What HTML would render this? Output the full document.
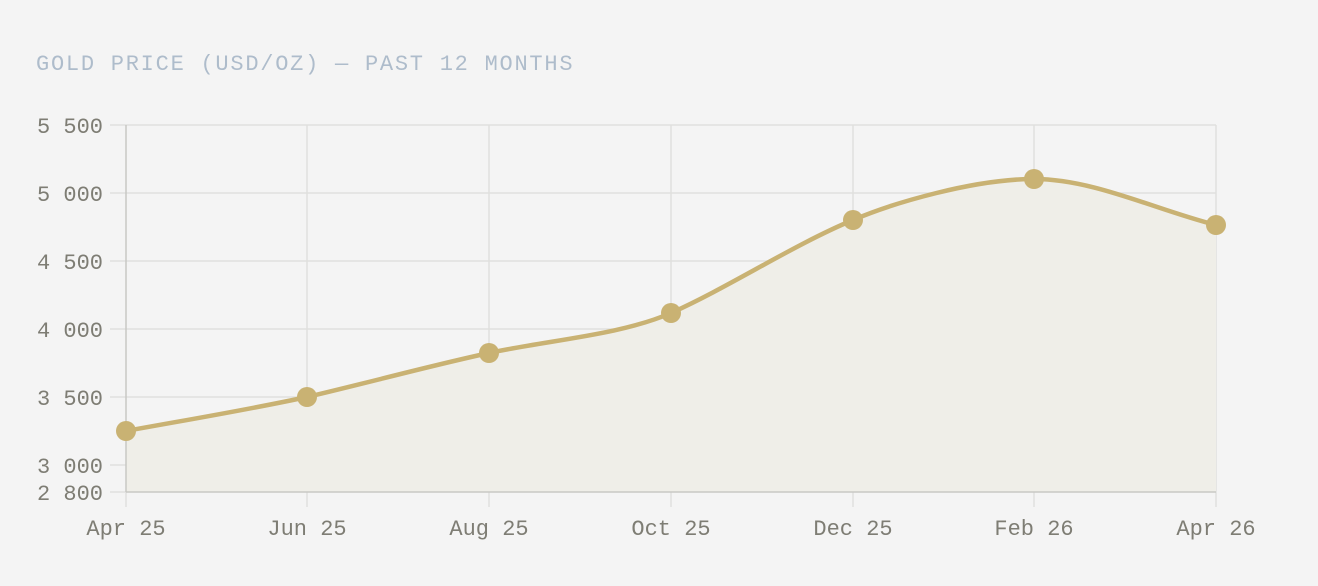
<!DOCTYPE html>
<html><head><style>
html,body{margin:0;padding:0;background:#f4f4f4;}
svg{display:block;font-family:"Liberation Mono",monospace;}
</style></head><body>
<svg width="1318" height="586" viewBox="0 0 1318 586" xmlns="http://www.w3.org/2000/svg">
<rect width="1318" height="586" fill="#f4f4f4"/>
<text x="36" y="70" font-size="22" letter-spacing="1.75" fill="#aebccb">GOLD PRICE (USD/OZ) — PAST 12 MONTHS</text>
<g stroke="#e0e0de" stroke-width="1.5">
<line x1="110" y1="125" x2="1216" y2="125"/>
<line x1="110" y1="193" x2="1216" y2="193"/>
<line x1="110" y1="261" x2="1216" y2="261"/>
<line x1="110" y1="329" x2="1216" y2="329"/>
<line x1="110" y1="397" x2="1216" y2="397"/>
<line x1="110" y1="465" x2="1216" y2="465"/>
<line x1="110" y1="492" x2="126" y2="492"/>
<line x1="307" y1="125" x2="307" y2="507"/>
<line x1="489" y1="125" x2="489" y2="507"/>
<line x1="671" y1="125" x2="671" y2="507"/>
<line x1="853" y1="125" x2="853" y2="507"/>
<line x1="1034" y1="125" x2="1034" y2="507"/>
<line x1="1216" y1="125" x2="1216" y2="507"/>
<line x1="126" y1="492" x2="126" y2="507"/>
</g>
<path d="M126,431 C186,420 247,410 307,397 C367,383 429,366 489,353 C549,340 621,335 671,313 C731,286 793,245 853,220 C893,203 974,179 1034,179 C1094,179 1156,210 1216,225 L1216,492 L126,492 Z" fill="#efeee8"/>
<g stroke="#c8c8c4" stroke-width="1.5">
<line x1="126" y1="125" x2="126" y2="492"/>
<line x1="126" y1="492" x2="1216" y2="492"/>
</g>
<path d="M126,431 C186,420 247,410 307,397 C367,383 429,366 489,353 C549,340 621,335 671,313 C731,286 793,245 853,220 C893,203 974,179 1034,179 C1094,179 1156,210 1216,225" fill="none" stroke="#c9b273" stroke-width="4.5"/>
<g fill="#c9b273">
<circle cx="126" cy="431" r="10"/>
<circle cx="307" cy="397" r="10"/>
<circle cx="489" cy="353" r="10"/>
<circle cx="671" cy="313" r="10"/>
<circle cx="853" cy="220" r="10"/>
<circle cx="1034" cy="179" r="10"/>
<circle cx="1216" cy="225" r="10"/>
</g>
<g font-size="22" fill="#7e7d74" text-anchor="end">
<text x="103" y="133">5 500</text>
<text x="103" y="201">5 000</text>
<text x="103" y="269">4 500</text>
<text x="103" y="337">4 000</text>
<text x="103" y="405">3 500</text>
<text x="103" y="473">3 000</text>
<text x="103" y="500">2 800</text>
</g>
<g font-size="22" fill="#7e7d74" text-anchor="middle">
<text x="126" y="535">Apr 25</text>
<text x="307" y="535">Jun 25</text>
<text x="489" y="535">Aug 25</text>
<text x="671" y="535">Oct 25</text>
<text x="853" y="535">Dec 25</text>
<text x="1034" y="535">Feb 26</text>
<text x="1216" y="535">Apr 26</text>
</g>
</svg>
</body></html>
